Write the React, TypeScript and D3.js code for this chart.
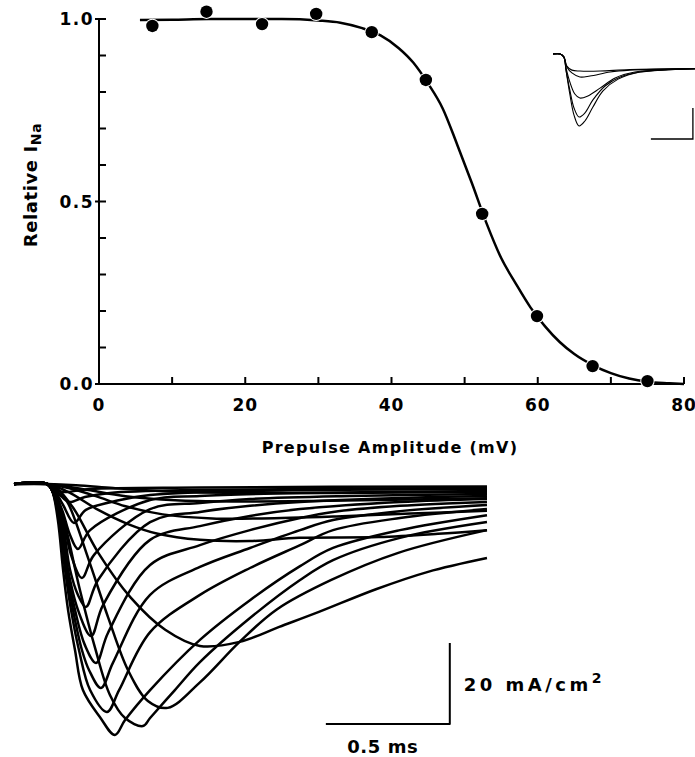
import React from 'react';
import * as d3 from 'd3';

// ---- top panel: relative I_Na vs prepulse amplitude ----
const prepulseMV = [7.3, 14.7, 22.3, 29.7, 37.3, 44.7, 52.4, 59.9, 67.5, 75.0];
const relativeINa = [0.981, 1.02, 0.986, 1.014, 0.964, 0.833, 0.466, 0.186, 0.049, 0.008];

// fitted curve
const fitMV = [5.6, 10, 15, 20, 25, 30, 33, 36, 38.5, 41, 43, 45, 47, 49, 51, 53, 55, 57, 59, 61, 63, 65, 67.5, 70, 72.5, 75, 78, 80];
const fitRel = [0.997, 0.998, 1.0, 1.0, 1.0, 0.996, 0.99, 0.975, 0.955, 0.92, 0.88, 0.823, 0.755, 0.655, 0.55, 0.44, 0.345, 0.275, 0.21, 0.158, 0.115, 0.082, 0.052, 0.03, 0.015, 0.006, 0.002, 0];

const xTickLabels = [0, 20, 40, 60, 80];
const yTickLabels = [0.0, 0.5, 1.0];

// ---- inset: a few current records (arbitrary units) ----
const insetTraces: [number, number][][] = [
  [[0, 0], [0.17, 0], [0.26, -0.1], [0.33, -0.39], [0.45, -0.52], [0.64, -0.55], [1.12, -0.55], [1.83, -0.5], [3.38, -0.47]],
  [[0, 0], [0.17, 0], [0.26, -0.1], [0.33, -0.42], [0.45, -0.61], [0.64, -0.74], [0.88, -0.71], [1.36, -0.58], [1.83, -0.52], [3.38, -0.47]],
  [[0, 0], [0.17, 0], [0.26, -0.1], [0.31, -0.45], [0.4, -0.9], [0.52, -1.29], [0.64, -1.42], [0.83, -1.35], [1.12, -1.1], [1.48, -0.77], [1.95, -0.58], [2.55, -0.52], [3.38, -0.47]],
  [[0, 0], [0.17, 0], [0.26, -0.1], [0.31, -0.52], [0.4, -1.16], [0.5, -1.74], [0.62, -2.03], [0.76, -1.9], [0.95, -1.48], [1.24, -1.03], [1.6, -0.74], [2.07, -0.58], [3.38, -0.47]],
  [[0, 0], [0.17, 0], [0.26, -0.1], [0.31, -0.52], [0.4, -1.29], [0.5, -1.97], [0.62, -2.32], [0.76, -2.16], [0.95, -1.71], [1.19, -1.19], [1.55, -0.81], [2.07, -0.58], [3.38, -0.47]],
];
const insetBarT = [2.33, 3.33];
const insetBarI = [-1.74, -2.74];

// ---- bottom panel: Na currents, t in ms, I in mA/cm2 ----
// fast records (peak on the left edge of the bundle)
const traceD: [number, number][] = [[0, 0], [0.133, 0], [0.153, -1.5], [0.177, -8.9], [0.198, -21.2], [0.218, -31.1], [0.246, -41], [0.278, -50.9], [0.347, -57.6], [0.407, -62], [0.448, -58.3], [0.549, -50.9], [0.75, -38.5], [0.952, -28.7], [1.154, -20.3], [1.287, -15.8], [1.557, -11.4], [1.908, -7.7]];
const traceF1: [number, number][] = [[0, 0], [0.133, 0], [0.153, -1.5], [0.182, -8.9], [0.206, -21.2], [0.23, -31.1], [0.262, -41], [0.307, -50.9], [0.375, -56.3], [0.424, -50.9], [0.549, -36.6], [0.75, -27.4], [0.952, -20.75], [1.154, -15.1], [1.287, -11.4], [1.557, -8.4], [1.908, -6.2]];
const traceF2: [number, number][] = [[0, 0], [0.133, 0], [0.153, -1.5], [0.186, -8.9], [0.21, -21.2], [0.238, -31.1], [0.274, -41], [0.303, -46], [0.351, -50.4], [0.399, -44.2], [0.549, -27.4], [0.75, -20.5], [0.952, -15.8], [1.154, -11.4], [1.287, -8.9], [1.557, -6.7], [1.908, -5.2]];
const traceF3: [number, number][] = [[0, 0], [0.133, 0], [0.153, -1.5], [0.186, -8.9], [0.214, -21.2], [0.246, -31.1], [0.286, -39.8], [0.331, -44.2], [0.379, -36.8], [0.549, -20], [0.75, -15.1], [0.952, -11.4], [1.154, -8.4], [1.287, -6.9], [1.557, -5.4], [1.908, -4.45]];
const traceF4: [number, number][] = [[0, 0], [0.133, 0], [0.153, -1.5], [0.19, -8.9], [0.218, -21.2], [0.258, -31.1], [0.311, -37.55], [0.359, -29.9], [0.549, -13.8], [0.75, -10.4], [0.952, -7.9], [1.154, -6.2], [1.557, -4.45], [1.908, -3.7]];
const traceF5: [number, number][] = [[0, 0], [0.133, 0], [0.153, -1.5], [0.194, -8.9], [0.226, -21.2], [0.258, -27.4], [0.29, -30.4], [0.339, -23.7], [0.549, -9.4], [0.75, -6.9], [0.952, -5.4], [1.154, -4.45], [1.557, -3.46], [1.908, -2.96]];
const traceF6: [number, number][] = [[0, 0], [0.133, 0], [0.153, -1.5], [0.198, -8.9], [0.23, -17.5], [0.274, -23.2], [0.323, -17.5], [0.549, -6.2], [0.75, -4.7], [0.952, -3.7], [1.355, -2.96], [1.908, -2.47]];
const traceF7: [number, number][] = [[0, 0], [0.133, 0], [0.153, -1], [0.194, -6.4], [0.226, -12.6], [0.258, -16.06], [0.307, -11.4], [0.549, -3.95], [0.75, -2.96], [1.154, -2.22], [1.908, -1.73]];
const traceF8: [number, number][] = [[0, 0], [0.133, 0], [0.157, -1], [0.198, -5.19], [0.242, -9.63], [0.29, -6.4], [0.428, -3.95], [0.549, -2.72], [0.952, -1.73], [1.908, -1.24]];
const traceF9: [number, number][] = [[0, 0], [0.133, 0], [0.161, -0.99], [0.186, -2.72], [0.222, -4.45], [0.286, -3.21], [0.387, -2.22], [0.75, -1.48], [1.908, -0.99]];
const traceF10: [number, number][] = [[0, 0], [0.133, 0], [0.173, -1.48], [0.202, -1.98], [0.307, -1.24], [0.75, -0.86], [1.908, -0.6]];
// slower records (peak along the lower right edge)
const traceT12: [number, number][] = [[0, 0], [0.133, 0], [0.165, -2], [0.206, -10.1], [0.266, -26.2], [0.327, -40.5], [0.387, -52.1], [0.448, -57.8], [0.52, -59.8], [0.549, -57.8], [0.649, -50.9], [0.75, -44], [0.952, -33.1], [1.154, -23.7], [1.287, -18.8], [1.557, -13.3], [1.908, -9.4]];
const traceA4: [number, number][] = [[0, 0], [0.133, 0], [0.18, -1.5], [0.22, -5], [0.3, -18.5], [0.38, -33], [0.46, -46], [0.54, -53.6], [0.62, -55.3], [0.75, -49], [0.91, -39], [1.06, -31], [1.28, -23.7], [1.55, -17], [1.908, -11.4]];
const traceA3: [number, number][] = [[0, 0], [0.133, 0], [0.17, -1], [0.24, -6], [0.34, -17], [0.47, -28], [0.61, -36], [0.75, -40], [0.91, -39], [1.07, -35.3], [1.23, -31.6], [1.46, -26], [1.67, -21.7], [1.908, -18.3]];
const traceA2: [number, number][] = [[0, 0], [0.133, 0], [0.22, -2], [0.34, -6.4], [0.46, -9.9], [0.58, -12.3], [0.75, -13.8], [0.95, -14.1], [1.15, -13.3], [1.47, -13.1], [1.71, -12.3], [1.908, -11.4]];
const traceA1: [number, number][] = [[0, 0], [0.133, 0], [0.22, -1], [0.33, -3], [0.45, -5.5], [0.6, -7.5], [0.8, -8.5], [1.0, -8.5], [1.3, -8], [1.6, -7.3], [1.908, -6.6]];
const traceS1: [number, number][] = [[0, 0], [0.133, 0], [0.2, -0.5], [0.3, -1.5], [0.45, -3], [0.65, -4], [0.9, -4.3], [1.2, -4.2], [1.6, -3.8], [1.908, -3.5]];
const traceS2: [number, number][] = [[0, 0], [0.133, 0], [0.25, -0.3], [0.4, -1], [0.6, -1.8], [0.9, -2.2], [1.3, -2.2], [1.908, -2]];

const currentTraces = [traceS2, traceS1, traceA1, traceA2, traceA3, traceA4, traceT12, traceF10, traceF9, traceF8, traceF7, traceF6, traceF5, traceF4, traceF3, traceF2, traceF1, traceD];

const barTimeMs = [1.258, 1.758]; // 0.5 ms
const barCurrent = [-39.3, -59.3]; // 20 mA/cm2

const font = '"DejaVu Sans", "Liberation Sans", Arial, sans-serif';

export default function App() {
  const W = 695;
  const H = 757;

  // top panel scales
  const x = d3.scaleLinear().domain([0, 80]).range([99, 684]);
  const y = d3.scaleLinear().domain([0, 1]).range([384, 19]);
  const fitLine = d3
    .line<number>()
    .x((d, i) => x(fitMV[i]))
    .y((d) => y(d))
    .curve(d3.curveMonotoneX);

  // inset scales
  const ix = d3.scaleLinear().domain([0, 3.38]).range([553, 695]);
  const iy = d3.scaleLinear().domain([0, -2.74]).range([54, 139]);
  const insetLine = d3
    .line<[number, number]>()
    .x((d) => ix(d[0]))
    .y((d) => iy(d[1]))
    .curve(d3.curveCatmullRom.alpha(0.5));

  // bottom panel scales
  const tx = d3.scaleLinear().domain([0, 1.9]).range([14, 485]);
  const ty = d3.scaleLinear().domain([0, -62]).range([484, 735]);
  const traceLine = d3
    .line<[number, number]>()
    .x((d) => tx(d[0]))
    .y((d) => ty(d[1]))
    .curve(d3.curveCatmullRom.alpha(0.5));

  return (
    <div style={{ position: 'absolute', left: 0, top: 0 }}>
      <svg width={W} height={H} style={{ display: 'block', background: '#fff' }} fontFamily={font} fontWeight="bold">
        {/* axes */}
        <g stroke="#000" strokeWidth={2} fill="none">
          <line x1={x(0)} x2={x(0)} y1={y(1)} y2={y(0)} />
          <line x1={x(0)} x2={x(80)} y1={y(0)} y2={y(0)} />
          {y.ticks(10).map((t) => (
            <line key={'yt' + t} x1={yTickLabels.includes(t) ? x(0) - 4 : x(0)} x2={x(0) + 7} y1={y(t)} y2={y(t)} />
          ))}
          {x.ticks(8).map((t) => (
            <line key={'xt' + t} x1={x(t)} x2={x(t)} y1={y(0)} y2={y(0) - 7} />
          ))}
        </g>
        {yTickLabels.map((t) => (
          <text key={'yl' + t} x={x(0) - 5} y={y(t)} dy="0.36em" textAnchor="end" fontSize={17} letterSpacing={1.5}>
            {d3.format('.1f')(t)}
          </text>
        ))}
        {xTickLabels.map((t) => (
          <text key={'xl' + t} x={x(t)} y={411} textAnchor="middle" fontSize={17} letterSpacing={1}>
            {t}
          </text>
        ))}
        <text x={390} y={453} textAnchor="middle" fontSize={16} letterSpacing={1.3}>
          Prepulse Amplitude (mV)
        </text>
        <text transform="translate(37,185) rotate(-90)" textAnchor="middle" fontSize={18} letterSpacing={0.6}>
          Relative I<tspan fontSize={14} dy={4}>Na</tspan>
        </text>

        {/* fitted curve and points */}
        <path d={fitLine(fitRel) || ''} fill="none" stroke="#000" strokeWidth={2.5} />
        {prepulseMV.map((v, i) => (
          <g key={'pt' + i}>
            <circle cx={x(v)} cy={y(relativeINa[i])} r={7.2} fill="#fff" />
            <circle cx={x(v)} cy={y(relativeINa[i])} r={6.2} fill="#000" />
          </g>
        ))}

        {/* inset */}
        <g fill="none" stroke="#000" strokeWidth={1.1}>
          {insetTraces.map((tr, i) => (
            <path key={'in' + i} d={insetLine(tr) || ''} />
          ))}
          <polyline
            points={`${ix(insetBarT[0])},${iy(insetBarI[1])} ${ix(insetBarT[1])},${iy(insetBarI[1])} ${ix(insetBarT[1])},${iy(insetBarI[0])}`}
            strokeWidth={1.3}
          />
        </g>

        {/* current records */}
        <g fill="none" stroke="#000" strokeWidth={2.5} strokeLinejoin="round">
          {currentTraces.map((tr, i) => (
            <path key={'tr' + i} d={traceLine(tr) || ''} />
          ))}
          <polyline
            points={`${tx(barTimeMs[0])},${ty(barCurrent[1])} ${tx(barTimeMs[1])},${ty(barCurrent[1])} ${tx(barTimeMs[1])},${ty(barCurrent[0])}`}
            strokeWidth={2}
          />
        </g>
        <text x={tx(barTimeMs[1]) + 14} y={ty((barCurrent[0] + barCurrent[1]) / 2) + 7} fontSize={18} letterSpacing={3.5}>
          20 mA/cm<tspan fontSize={14} dy={-8}>2</tspan>
        </text>
        <text x={tx((barTimeMs[0] + barTimeMs[1]) / 2) - 5} y={ty(barCurrent[1]) + 29} textAnchor="middle" fontSize={18} letterSpacing={0.6}>
          0.5 ms
        </text>
      </svg>
    </div>
  );
}
